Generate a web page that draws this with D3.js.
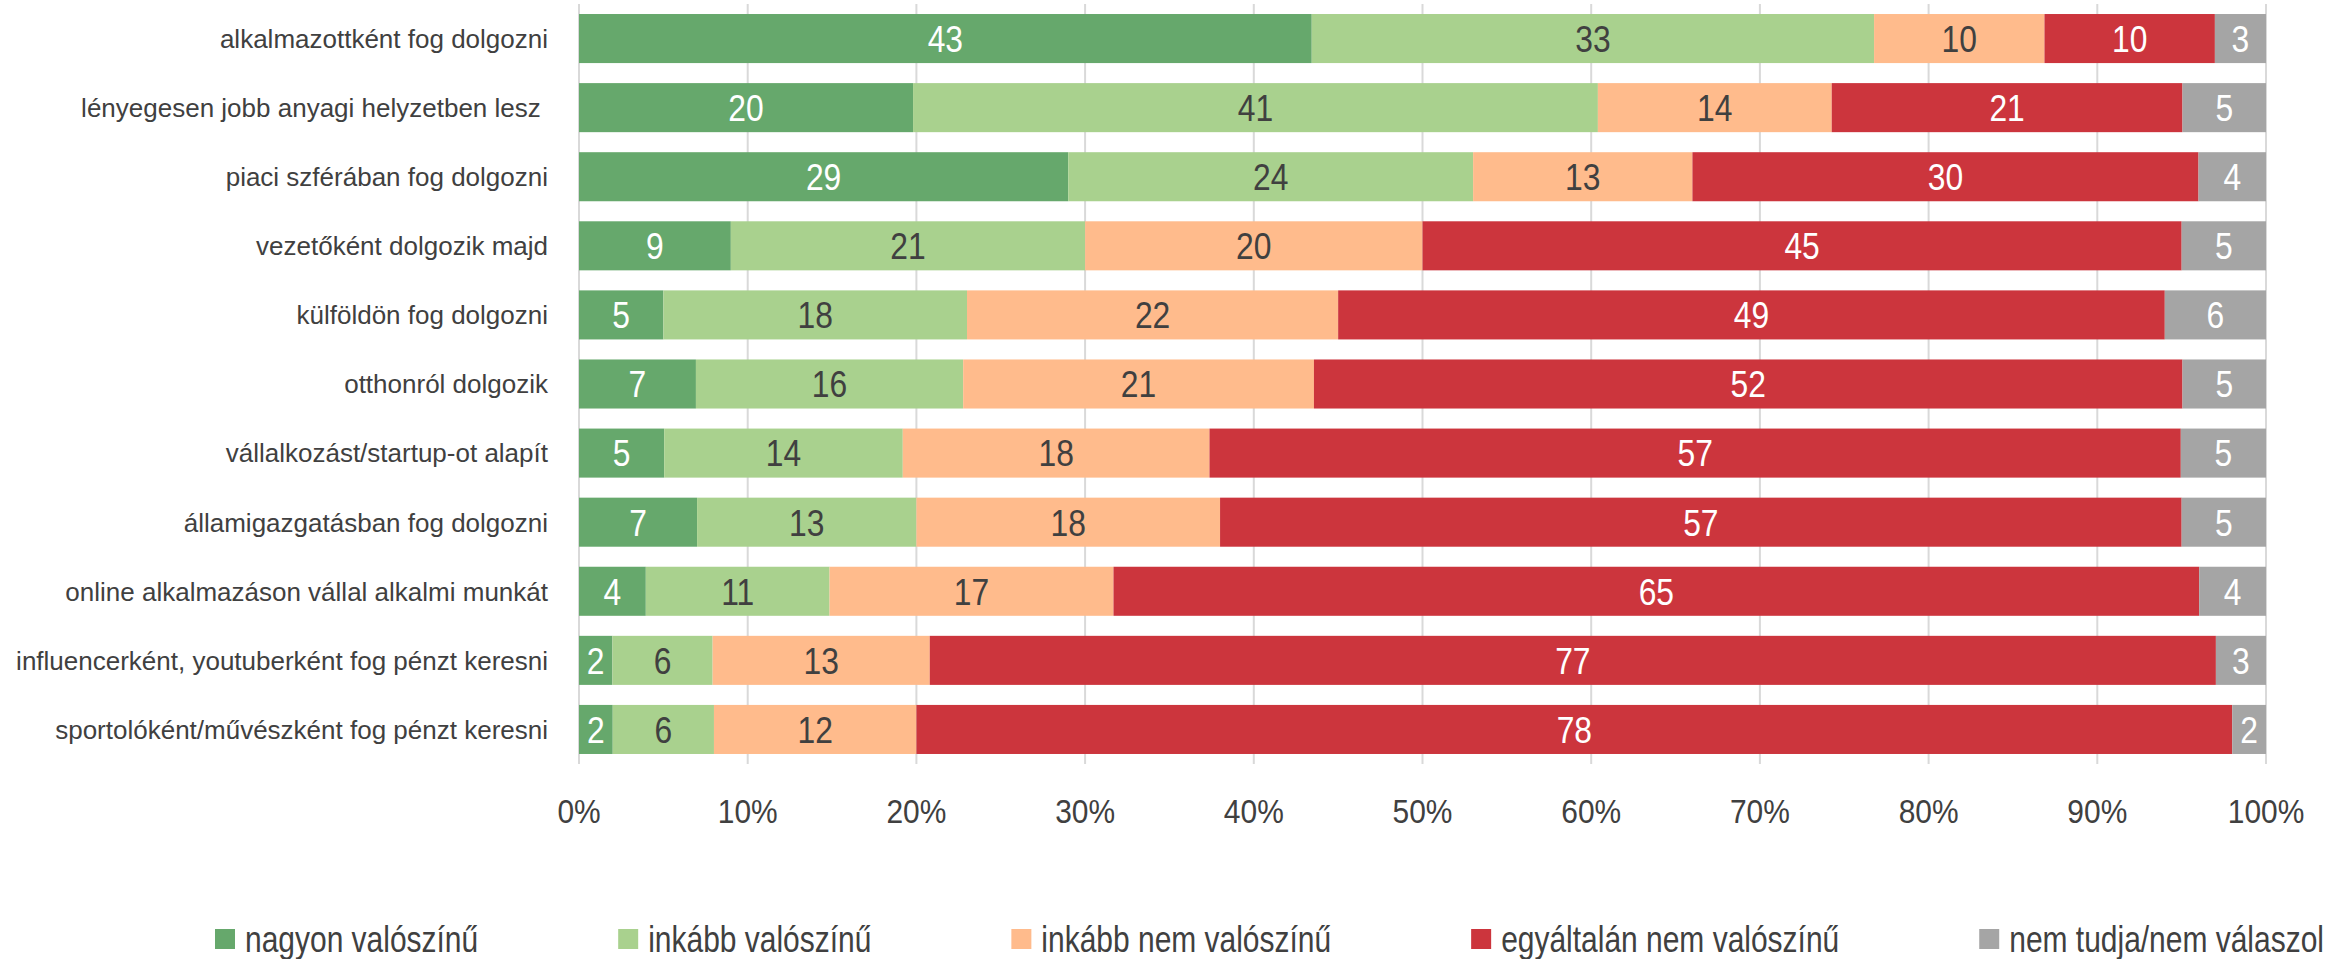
<!DOCTYPE html>
<html lang="hu">
<head>
<meta charset="UTF-8">
<title>Stacked bars</title>
<script src="https://cdn.jsdelivr.net/npm/d3@7"></script>
<style>
  body { margin: 0; background: #fff; }
  svg text { font-family: "Liberation Sans", Arial, sans-serif; fill: #404040; }
</style>
</head>
<body>
<svg></svg>
<script>
    const width = 2336, height = 959;

    // categories (top to bottom)
    const categories = [
        'alkalmazottként fog dolgozni',
        'lényegesen jobb anyagi helyzetben lesz ',
        'piaci szférában fog dolgozni',
        'vezetőként dolgozik majd',
        'külföldön fog dolgozni',
        'otthonról dolgozik',
        'vállalkozást/startup-ot alapít',
        'államigazgatásban fog dolgozni',
        'online alkalmazáson vállal alkalmi munkát',
        'influencerként, youtuberként fog pénzt keresni',
        'sportolóként/művészként fog pénzt keresni'
    ];

    const seriesNames = ['nagyon valószínű', 'inkább valószínű', 'inkább nem valószínű', 'egyáltalán nem valószínű', 'nem tudja/nem válaszol'];
    const seriesColors = ['#66a86c', '#a9d18e', '#ffbb8c', '#cc353d', '#a5a5a5'];
    const labelColors = ['#ffffff', '#404040', '#404040', '#ffffff', '#ffffff'];

    // one array per series, in category order
    const nagyon = [43, 20, 29, 9, 5, 7, 5, 7, 4, 2, 2];
    const inkabb = [33, 41, 24, 21, 18, 16, 14, 13, 11, 6, 6];
    const inkabbNem = [10, 14, 13, 20, 22, 21, 18, 18, 17, 13, 12];
    const egyaltalanNem = [10, 21, 30, 45, 49, 52, 57, 57, 65, 77, 78];
    const nemTudja = [3, 5, 4, 5, 6, 5, 5, 5, 4, 3, 2];

    const xTicks = [0, 0.1, 0.2, 0.3, 0.4, 0.5, 0.6, 0.7, 0.8, 0.9, 1];

    const seriesValues = [nagyon, inkabb, inkabbNem, egyaltalanNem, nemTudja];
    const rows = categories.map((c, i) => {
        const r = { cat: c };
        seriesNames.forEach((s, j) => r[s] = seriesValues[j][i]);
        return r;
    });

    const margin = { left: 579, right: 70, top: 4, bottom: 195 };

    const svg = d3.select('svg')
        .attr('width', width)
        .attr('height', height);

    const x = d3.scaleLinear().domain([0, 1]).range([margin.left, width - margin.right]);
    const y = d3.scaleBand().domain(categories)
        .range([margin.top, height - margin.bottom])
        .paddingInner(0.29).paddingOuter(0.145);

    // place a text at (px, py), squeezed horizontally (no narrow font installed)
    const at = (px, py, k) => `translate(${px}, ${py}) scale(${k}, 1)`;

    // gridlines
    svg.append('g')
        .selectAll('line')
        .data(xTicks)
        .join('line')
        .attr('x1', d => x(d)).attr('x2', d => x(d))
        .attr('y1', margin.top).attr('y2', height - margin.bottom)
        .attr('stroke', '#d9d9d9')
        .attr('stroke-width', 2);

    // stack, normalised to 100%
    const stack = d3.stack().keys(seriesNames).offset(d3.stackOffsetExpand);
    const layers = stack(rows);

    const layer = svg.append('g')
        .selectAll('g')
        .data(layers)
        .join('g')
        .attr('fill', (d, i) => seriesColors[i]);

    layer.selectAll('rect')
        .data(d => d)
        .join('rect')
        .attr('x', d => x(d[0]))
        .attr('y', d => y(d.data.cat))
        .attr('width', d => x(d[1]) - x(d[0]))
        .attr('height', y.bandwidth());

    // value labels
    svg.append('g')
        .selectAll('g')
        .data(layers)
        .join('g')
        .selectAll('text')
        .data(d => d.map(p => ({ p, key: d.key, i: d.index })))
        .join('text')
        .attr('transform', d => at((x(d.p[0]) + x(d.p[1])) / 2, y(d.p.data.cat) + y.bandwidth() / 2, 0.86))
        .attr('dy', '0.36em')
        .attr('text-anchor', 'middle')
        .style('fill', d => labelColors[d.i])
        .style('font-size', '37px')
        .text(d => d.p.data[d.key]);

    // category labels
    svg.append('g')
        .selectAll('text')
        .data(categories)
        .join('text')
        .attr('x', margin.left - 31)
        .attr('y', d => y(d) + y.bandwidth() / 2)
        .attr('dy', '0.36em')
        .attr('text-anchor', 'end')
        .style('font-size', '26px')
        .style('white-space', 'pre')
        .text(d => d);

    // x axis labels
    svg.append('g')
        .selectAll('text')
        .data(xTicks)
        .join('text')
        .attr('transform', d => at(x(d), 810.5, 0.88))
        .attr('dy', '0.36em')
        .attr('text-anchor', 'middle')
        .style('font-size', '34px')
        .text(d3.format('.0%'));

    // legend
    const legend = svg.append('g').attr('transform', 'translate(215, 929)');
    let lx = 0;
    seriesNames.forEach((name, i) => {
        const g = legend.append('g').attr('transform', `translate(${lx}, 0)`);
        g.append('rect').attr('width', 20).attr('height', 20).attr('fill', seriesColors[i]);
        const t = g.append('text')
            .attr('transform', at(30, 10, 0.81))
            .attr('dy', '0.36em')
            .style('font-size', '37px')
            .text(name);
        lx += 30 + t.node().getComputedTextLength() * 0.81 + 140;
    });
</script>
</body>
</html>
